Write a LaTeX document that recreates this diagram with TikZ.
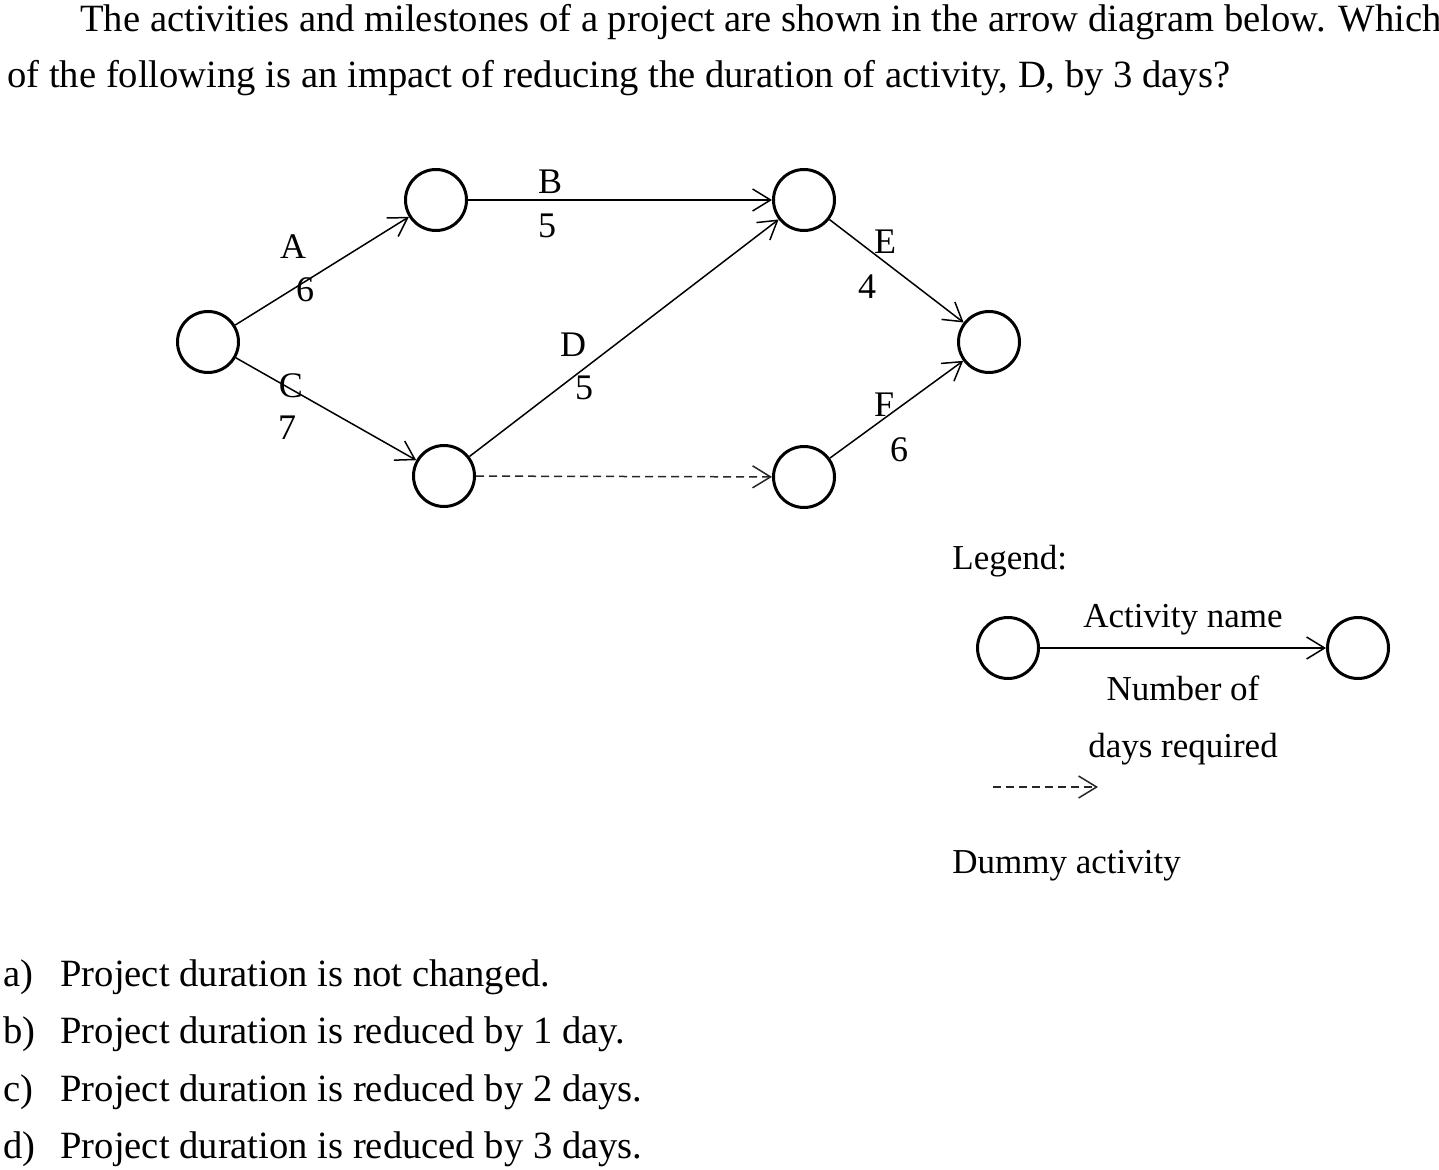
\documentclass[tikz,border=0pt]{standalone}
\usepackage{fontspec}
\setmainfont{Liberation Serif}
\usetikzlibrary{arrows.meta}
\begin{document}
\begin{tikzpicture}[x=0.5pt,y=-0.5pt,
  ev/.style={circle,draw,line width=1.5pt,minimum size=30.5pt,inner sep=0pt},
  act/.style={line width=0.75pt,-{Straight Barb[length=9pt,width=11pt,line width=0.75pt]}},
  dummy/.style={act,dash pattern=on 4pt off 2.5pt,draw=black!85},
  lab/.style={font=\fontsize{18}{21}\selectfont,inner sep=0pt},
  txt/.style={font=\fontsize{19.3}{23}\selectfont,inner sep=0pt,anchor=base west},
  opt/.style={font=\fontsize{19.3}{23}\selectfont,inner sep=0pt,anchor=base west},
  leg/.style={font=\fontsize{17.5}{21}\selectfont,inner sep=0pt}]
\useasboundingbox (0,0) rectangle (1439,1170);
% question
\node[txt] (q1) at (80,32) {The activities and milestones of a project are shown in the arrow diagram below. Which};
\node[txt] (q2) at (7,88) {of the following is an impact of reducing the duration of activity, D, by 3 days?};
% events
\node[ev] (n1) at (208,342) {};
\node[ev] (n2) at (436,200) {};
\node[ev] (n3) at (444,476) {};
\node[ev] (n4) at (804,200) {};
\node[ev] (n5) at (804,477) {};
\node[ev] (n6) at (989,342) {};
% activities
\draw[act] (n1) -- (n2);
\draw[act] (n1) -- (n3);
\draw[act] (n2) -- (n4);
\draw[act] (n3) -- (n4);
\draw[act] (n4) -- (n6);
\draw[act] (n5) -- (n6);
\draw[dummy] (n3) -- (n5);
% labels
\node[lab] (lA) at (293,247) {A};
\node[lab] (dA) at (305,290) {6};
\node[lab] (lC) at (291,386) {C};
\node[lab] (dC) at (287,428) {7};
\node[lab] (lB) at (550,182) {B};
\node[lab] (dB) at (547,226) {5};
\node[lab] (lD) at (573,345) {D};
\node[lab] (dD) at (584,388) {5};
\node[lab] (lE) at (885,242) {E};
\node[lab] (dE) at (867,287) {4};
\node[lab] (lF) at (884,405) {F};
\node[lab] (dF) at (899,450) {6};
% legend
\node[leg,anchor=base west] (lg) at (952,569) {Legend:};
\node[ev] (l1) at (1008,648) {};
\node[ev] (l2) at (1358,648) {};
\draw[act] (l1) -- (l2);
\node[leg,anchor=base] (la) at (1183,627) {Activity name};
\node[leg,anchor=base] (lb) at (1183,700) {Number of};
\node[leg,anchor=base] (lc) at (1183,757) {days required};
\coordinate (d1) at (993,787);
\coordinate (d2) at (1098,787);
\draw[dummy] (d1) -- (d2);
\node[leg,anchor=base west] (ld) at (952,873) {Dummy activity};
% options
\node[opt] (oa) at (3,986) {a)};
\node[opt] (ob) at (3,1043.5) {b)};
\node[opt] (oc) at (3,1101) {c)};
\node[opt] (od) at (3,1158.5) {d)};
\node[opt] (ta) at (60,986) {Project duration is not changed.};
\node[opt] (tb) at (60,1043.5) {Project duration is reduced by 1 day.};
\node[opt] (tc) at (60,1101) {Project duration is reduced by 2 days.};
\node[opt] (td) at (60,1158.5) {Project duration is reduced by 3 days.};
\end{tikzpicture}
\end{document}
